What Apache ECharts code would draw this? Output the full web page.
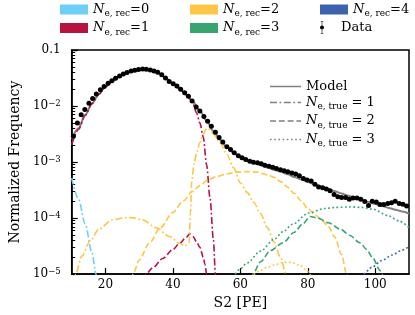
<!DOCTYPE html>
<html><head><meta charset="utf-8">
<script src="https://cdn.jsdelivr.net/npm/echarts@6/dist/echarts.min.js"></script>
<style>html,body{margin:0;padding:0;background:#fff}#c{width:415px;height:315px}</style>
</head><body><div id="c"></div>
<script>
// ---- Data ----
const xTicks = [20, 40, 60, 80, 100];
const yTicks = [1e-5, 1e-4, 1e-3, 1e-2, 1e-1];

const dataX = [10.5,11.7,12.8,13.9,15.1,16.2,17.3,18.5,19.6,20.8,21.9,23.0,24.2,25.3,26.4,27.6,28.7,29.8,31.0,32.1,33.3,34.4,35.5,36.7,37.8,38.9,40.1,41.2,42.3,43.5,44.6,45.7,46.9,48.0,49.2,50.3,51.4,52.6,53.7,54.8,56.0,57.1,58.2,59.4,60.5,61.6,62.8,63.9,65.1,66.2,67.3,68.5,69.6,70.7,71.9,73.0,74.1,75.3,76.4,77.5,78.7,79.8,81.0,82.1,83.2,84.4,85.5,86.6,87.8,88.9,90.0,91.2,92.3,93.4,94.6,95.7,96.9,98.0,99.1,100.3,101.4,102.5,103.7,104.8,105.9,107.1,108.2,109.3];
const dataY = [2.88e-3,5.0e-3,7.0e-3,8.7e-3,0.0112,0.0136,0.0164,0.0195,0.0224,0.0256,0.0283,0.0312,0.0343,0.0372,0.0396,0.0420,0.0437,0.0449,0.0457,0.0451,0.0439,0.0423,0.0400,0.0363,0.0316,0.0275,0.0250,0.0228,0.0200,0.0173,0.0150,0.0123,0.00964,0.00813,0.00652,0.00533,0.00434,0.00340,0.00275,0.00229,0.00188,0.00167,0.00146,0.00130,0.00119,0.00111,0.00103,9.9e-4,9.7e-4,9.3e-4,8.8e-4,8.4e-4,8.1e-4,7.7e-4,7.3e-4,7.0e-4,6.7e-4,6.4e-4,6.1e-4,5.7e-4,5.1e-4,4.8e-4,4.6e-4,4.0e-4,3.6e-4,3.47e-4,3.31e-4,3.09e-4,2.63e-4,2.40e-4,2.34e-4,2.32e-4,2.16e-4,2.29e-4,2.29e-4,2.16e-4,1.97e-4,1.67e-4,2.0e-4,1.94e-4,1.74e-4,1.74e-4,1.82e-4,1.88e-4,2.0e-4,1.82e-4,1.76e-4,1.64e-4];

const modelX = [10,12,14,16,18,20,22,24,26,28,30,32,34,36,38,40,42,44,46,48,50,52,54,56,58,60,62,64,66,68,70,72,74,76,78,80,82,84,86,88,90,92,94,96,98,100,102,104,106,108,110];
const modelY = [2.6e-3,4.0e-3,6.9e-3,0.011,0.0163,0.0221,0.0276,0.0332,0.0381,0.0418,0.0443,0.0448,0.0428,0.0382,0.0309,0.0251,0.0201,0.0159,0.0118,0.0082,0.0054,0.0036,0.0025,0.00183,0.00145,0.00121,0.00106,9.6e-4,8.8e-4,8.0e-4,7.3e-4,6.7e-4,6.05e-4,5.4e-4,4.9e-4,4.4e-4,4.0e-4,3.65e-4,3.3e-4,3.0e-4,2.75e-4,2.5e-4,2.3e-4,2.1e-4,1.93e-4,1.78e-4,1.65e-4,1.52e-4,1.41e-4,1.31e-4,1.2e-4];

// N_e,rec = 0, N_e,true = 1
const rec0t1X = [10,12,14,16,17.2,17.6];
const rec0t1Y = [5.2e-4,2.2e-4,7.9e-5,2.4e-5,1.0e-5,7e-6];
// N_e,rec = 1, N_e,true = 1
const rec1t1X = [10,12,14,16,18,20,22,24,26,28,30,32,34,36,38,40,42,44,45,46,47,48,49,50,51,52,52.6,53];
const rec1t1Y = [2.04e-3,3.8e-3,6.76e-3,0.011,0.0162,0.0219,0.0275,0.0331,0.038,0.0417,0.0442,0.0447,0.0427,0.038,0.0309,0.0251,0.020,0.0158,0.0135,0.0107,7.6e-3,5.0e-3,2.8e-3,8.9e-4,2.3e-4,4.2e-5,1.0e-5,3.2e-6];
// N_e,rec = 1, N_e,true = 2
const rec1t2X = [31.5,32,34,37,40,42,44,45,46,47,48,49,49.5,50,50.3];
const rec1t2Y = [7.9e-6,1.0e-5,1.29e-5,1.9e-5,2.75e-5,3.55e-5,4.57e-5,5.25e-5,4.68e-5,3.8e-5,3.0e-5,2.0e-5,1.5e-5,1.0e-5,7e-6];
// N_e,rec = 2, N_e,true = 1
const rec2t1X = [10.8,11.2,13,15.5,18,22,26,28,31,35,39,42,43.5,44.8,45.2,45.6,46.2,47,48,49,50,51,52,54,56,58,60,62,64,66,68,70,72,73.5,74];
const rec2t1Y = [6.3e-6,1e-5,2.09e-5,3.89e-5,6.3e-5,9.3e-5,1.02e-4,1.02e-4,9.3e-5,6.76e-5,4.68e-5,3.55e-5,3.16e-5,3.63e-5,1.26e-4,4.47e-4,8.9e-4,1.41e-3,2.24e-3,3.16e-3,3.98e-3,3.8e-3,3.16e-3,2.19e-3,1.38e-3,7.9e-4,4.27e-4,2.88e-4,1.9e-4,1.2e-4,6.76e-5,3.72e-5,1.9e-5,1e-5,7.9e-6];
// N_e,rec = 2, N_e,true = 2
const rec2t2X = [27.8,28.2,30,33,36.3,40,43,45.7,48,50.4,53,56,59,62,65,68,70,72,74,76,78,80,82,84,86,88,90,91.5,92];
const rec2t2Y = [7.9e-6,1e-5,1.78e-5,3.55e-5,6.76e-5,1.26e-4,2.0e-4,2.95e-4,3.8e-4,4.79e-4,5.5e-4,6.17e-4,6.6e-4,6.76e-4,6.6e-4,5.89e-4,5.37e-4,4.47e-4,3.55e-4,2.75e-4,2.04e-4,1.48e-4,1.17e-4,9.3e-5,7.2e-5,4.57e-5,2.24e-5,1e-5,7.1e-6];
// N_e,rec = 2, N_e,true = 3
const rec2t3X = [63,64,66,68,70,72.7,75,77.9,79.8,80.5,81];
const rec2t3Y = [8.9e-6,1e-5,1.17e-5,1.32e-5,1.45e-5,1.62e-5,1.62e-5,1.41e-5,1.15e-5,1e-5,8.7e-6];
// N_e,rec = 3, N_e,true = 2
const rec3t2X = [63.2,63.7,66,68.9,72.7,76,78.5,80.7,83,86,89.7,92.5,95.4,97.5,99.1,101.5,102,102.5];
const rec3t2Y = [8.3e-6,1e-5,1.66e-5,2.63e-5,3.63e-5,5.6e-5,7.9e-5,1.07e-4,1.0e-4,8.3e-5,6.3e-5,4.9e-5,3.63e-5,2.75e-5,2.0e-5,1.15e-5,1e-5,8.3e-6];
// N_e,rec = 3, N_e,true = 3
const rec3t3X = [57.8,58.3,59.9,62,66,70,72.7,75.5,80.2,85,88,92.5,96,99.1,103.9,107,110];
const rec3t3Y = [8.7e-6,1e-5,1.23e-5,1.58e-5,2.57e-5,4.17e-5,5.75e-5,7.76e-5,1.23e-4,1.48e-4,1.55e-4,1.58e-4,1.55e-4,1.45e-4,1.1e-4,8.9e-5,6.76e-5];
// N_e,rec = 4, N_e,true = 3
const rec4t3X = [96,96.4,99,101.9,105,108,110];
const rec4t3Y = [8.7e-6,1e-5,1.32e-5,1.74e-5,2.19e-5,2.69e-5,3.09e-5];

// ---- Styling ----
const SERIF = "'DejaVu Serif', 'Liberation Serif', serif";
const C0 = '#6dcff6', C1 = '#b8123f', C2 = '#ffc547', C3 = '#38a46f', C4 = '#3c62ae';
const GRAY = '#808080';
const DASHDOT = [7, 2.5, 1.8, 2.5], DASHED = [6, 2.8], DOTTED = [1.8, 2.4];

// legend line icons (filled paths, 31 x 1.5)
const ICON_SOLID = 'path://M0,0h31v1.5h-31z';
const ICON_DASHDOT = 'path://M0,0h7v1.5h-7z M9.5,0h1.8v1.5h-1.8z M13.8,0h7v1.5h-7z M23.3,0h1.8v1.5h-1.8z M27.6,0h3.4v1.5h-3.4z';
const ICON_DASHED = 'path://M0,0h6v1.5h-6z M8.8,0h6v1.5h-6z M17.6,0h6v1.5h-6z M26.4,0h4.6v1.5h-4.6z';
const ICON_DOTTED = 'path://M0,0h1.6v1.5h-1.6z M4.2,0h1.6v1.5h-1.6z M8.4,0h1.6v1.5h-1.6z M12.6,0h1.6v1.5h-1.6z M16.8,0h1.6v1.5h-1.6z M21,0h1.6v1.5h-1.6z M25.2,0h1.6v1.5h-1.6z M29.4,0h1.6v1.5h-1.6z';
const DATA_ICON = 'path://M3.4,0h1.2v26h-1.2z M1.5,0h5v1.2h-5z M1.5,24.8h5v1.2h-5z M8,13a4,4 0 1,1 -8,0a4,4 0 1,1 8,0z';

function pairs(xs, ys) { const n = Math.min(xs.length, ys.length); const o = []; for (let i = 0; i < n; i++) o.push([xs[i], ys[i]]); return o; }
function comp(id, color, xs, ys, dash) {
  return { type: 'line', name: id, data: pairs(xs, ys), symbol: 'none', showSymbol: false,
    smooth: 0.3, smoothMonotone: 'x', clip: true, silent: true, z: 3,
    lineStyle: { color: color, width: 1.6, type: dash }, itemStyle: { color: color } };
}

const richLeg = {
  n: { fontFamily: SERIF, fontStyle: 'italic', fontSize: 13, lineHeight: 18, verticalAlign: 'middle', color: '#000' },
  s: { fontFamily: SERIF, fontSize: 9, lineHeight: 18, verticalAlign: 'bottom', color: '#000' },
  t: { fontFamily: SERIF, fontSize: 13, lineHeight: 18, verticalAlign: 'middle', color: '#000' },
  p: { fontFamily: SERIF, fontSize: 13, lineHeight: 18, verticalAlign: 'middle', color: '#000' }
};
function fmtLeg(name) {
  if (name.indexOf('rec') === 0) return '{n|N}{s|e, rec}{t|=' + name.slice(3) + '}';
  if (name.indexOf('true') === 0) return '{n|N}{s|e, true}{t| = ' + name.slice(4) + '}';
  return '{p|' + name + '}';
}
function leg(extra) {
  return Object.assign({ orient: 'vertical', padding: 0, itemWidth: 28, itemHeight: 10, itemGap: 3,
    formatter: fmtLeg, textStyle: { rich: richLeg }, selectedMode: false }, extra);
}

const chart = echarts.init(document.getElementById('c'), null, { renderer: 'canvas' });
chart.setOption({
  animation: false,
  backgroundColor: '#fff',
  grid: { left: 56, right: 6, top: 50, bottom: 38, show: true, borderColor: '#000', borderWidth: 1.5, backgroundColor: 'transparent' },
  xAxis: {
    type: 'value', min: 10, max: 110,
    axisLine: { show: true, onZero: false, lineStyle: { color: '#000', width: 1.5 } },
    axisTick: { show: true, inside: true, length: 6, customValues: xTicks, lineStyle: { color: '#000', width: 1.2 } },
    axisLabel: { customValues: xTicks, margin: 5, color: '#000', fontFamily: SERIF, fontSize: 12 },
    splitLine: { show: false },
    name: 'S2 [PE]', nameLocation: 'middle', nameGap: 21,
    nameTextStyle: { fontFamily: SERIF, fontSize: 14, color: '#000' }
  },
  yAxis: {
    type: 'log', logBase: 10, min: 1e-5, max: 0.1,
    axisLine: { show: true, lineStyle: { color: '#000', width: 1.5 } },
    axisTick: { show: true, inside: true, length: 6, lineStyle: { color: '#000', width: 1.2 } },
    minorTick: { show: true, splitNumber: 9, length: 3.5, lineStyle: { color: '#000', width: 1 } },
    splitLine: { show: false }, minorSplitLine: { show: false },
    axisLabel: {
      margin: 11, color: '#000', fontFamily: SERIF, fontSize: 12,
      formatter: function (v) {
        const e = Math.round(Math.log10(v));
        if (e === -1) return '{b|0.1}';
        return '{b|10}{p|\u2212' + (-e) + '}';
      },
      rich: {
        b: { fontFamily: SERIF, fontSize: 12, lineHeight: 14, verticalAlign: 'middle', color: '#000' },
        p: { fontFamily: SERIF, fontSize: 8.5, lineHeight: 14, verticalAlign: 'top', color: '#000' }
      }
    },
    name: 'Normalized Frequency', nameLocation: 'middle', nameGap: 36,
    nameTextStyle: { fontFamily: SERIF, fontSize: 14, color: '#000' }
  },
  legend: [
    leg({ left: 60, top: 3, data: [{ name: 'rec0', icon: 'rect' }, { name: 'rec1', icon: 'rect' }] }),
    leg({ left: 190, top: 3, data: [{ name: 'rec2', icon: 'rect' }, { name: 'rec3', icon: 'rect' }] }),
    leg({ left: 320, top: 3, data: [{ name: 'rec4', icon: 'rect' }] }),
    leg({ left: 320, top: 21, itemHeight: 13, data: [{ name: 'Data', icon: DATA_ICON }] }),
    leg({ left: 270, top: 80, itemWidth: 31, itemHeight: 10, itemGap: 3,
      data: [{ name: 'Model', icon: ICON_SOLID }, { name: 'true1', icon: ICON_DASHDOT },
             { name: 'true2', icon: ICON_DASHED }, { name: 'true3', icon: ICON_DOTTED }] })
  ],
  series: [
    { type: 'line', name: 'Model', data: pairs(modelX, modelY), symbol: 'none', showSymbol: false,
      smooth: 0.3, smoothMonotone: 'x', z: 2, silent: true,
      lineStyle: { color: GRAY, width: 2 }, itemStyle: { color: GRAY } },
    comp('c_rec0_t1', C0, rec0t1X, rec0t1Y, DASHDOT),
    comp('c_rec1_t1', C1, rec1t1X, rec1t1Y, DASHDOT),
    comp('c_rec1_t2', C1, rec1t2X, rec1t2Y, DASHED),
    comp('c_rec2_t1', C2, rec2t1X, rec2t1Y, DASHDOT),
    comp('c_rec2_t2', C2, rec2t2X, rec2t2Y, DASHED),
    comp('c_rec2_t3', C2, rec2t3X, rec2t3Y, DOTTED),
    comp('c_rec3_t2', C3, rec3t2X, rec3t2Y, DASHED),
    comp('c_rec3_t3', C3, rec3t3X, rec3t3Y, DOTTED),
    comp('c_rec4_t3', C4, rec4t3X, rec4t3Y, DOTTED),
    { type: 'scatter', name: 'Data', data: pairs(dataX, dataY), symbol: 'circle', symbolSize: 5, z: 5, silent: true,
      itemStyle: { color: '#000', opacity: 1 } },
    { type: 'scatter', name: 'rec0', data: [], itemStyle: { color: C0, opacity: 1 } },
    { type: 'scatter', name: 'rec1', data: [], itemStyle: { color: C1, opacity: 1 } },
    { type: 'scatter', name: 'rec2', data: [], itemStyle: { color: C2, opacity: 1 } },
    { type: 'scatter', name: 'rec3', data: [], itemStyle: { color: C3, opacity: 1 } },
    { type: 'scatter', name: 'rec4', data: [], itemStyle: { color: C4, opacity: 1 } },
    { type: 'scatter', name: 'true1', data: [], itemStyle: { color: GRAY, opacity: 1 } },
    { type: 'scatter', name: 'true2', data: [], itemStyle: { color: GRAY, opacity: 1 } },
    { type: 'scatter', name: 'true3', data: [], itemStyle: { color: GRAY, opacity: 1 } }
  ]
});
</script>
</body></html>
